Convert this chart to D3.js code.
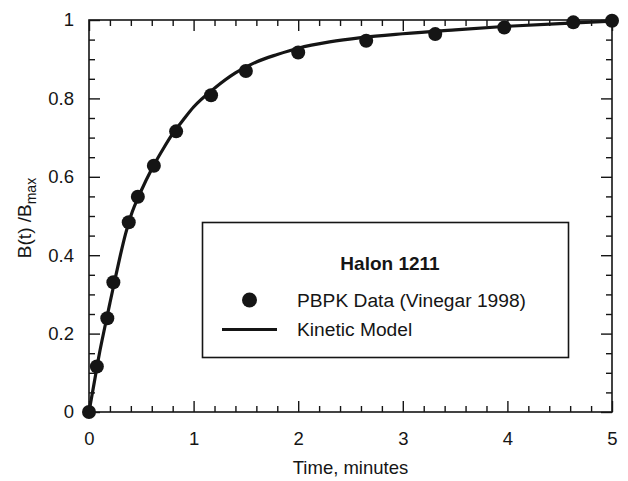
<!DOCTYPE html>
<html>
<head>
<meta charset="utf-8">
<script src="https://cdn.jsdelivr.net/npm/d3@7"></script>
<style>
  html, body { margin: 0; padding: 0; background: #fff; }
  svg { display: block; font-family: "Liberation Sans", Arial, Helvetica, sans-serif; }
</style>
</head>
<body>
<svg id="chart" width="628" height="481"></svg>
<script>
// ---- Data ----
const dataTime = [0, 0.075, 0.175, 0.233, 0.38, 0.467, 0.62, 0.833, 1.167, 1.5, 2.0, 2.65, 3.31, 3.97, 4.63, 5.0];
const dataValue = [0, 0.116, 0.239, 0.331, 0.484, 0.549, 0.628, 0.716, 0.808, 0.870, 0.917, 0.947, 0.964, 0.981, 0.994, 0.998];

const modelTime = [0, 0.05, 0.1, 0.15, 0.2, 0.25, 0.3, 0.35, 0.4, 0.5, 0.6, 0.7, 0.8, 0.9, 1.0, 1.2, 1.4, 1.6, 1.8, 2.0, 2.3, 2.6, 3.0, 3.5, 4.0, 4.5, 5.0];
const modelValue = [0, 0.075, 0.15, 0.215, 0.278, 0.34, 0.40, 0.455, 0.50, 0.565, 0.62, 0.667, 0.71, 0.745, 0.778, 0.826, 0.865, 0.893, 0.912, 0.928, 0.944, 0.955, 0.965, 0.975, 0.984, 0.991, 0.997];

const xTicks = [0, 1, 2, 3, 4, 5];
const yTicks = [0, 0.2, 0.4, 0.6, 0.8, 1];
const yTickLabels = ["0", "0.2", "0.4", "0.6", "0.8", "1"];
const xMinorTicks = d3.range(0, 26).map(i => i / 5).filter(v => Math.abs(v - Math.round(v)) > 1e-6);
const yMinorTicks = d3.range(0, 21).map(i => i / 20).filter(v => Math.abs(v * 5 - Math.round(v * 5)) > 1e-6);

const legendTitle = "Halon 1211";
const legendData = "PBPK Data (Vinegar 1998)";
const legendModel = "Kinetic Model";
const xTitle = "Time, minutes";

// ---- Layout ----
const pLeft = 89, pRight = 612, pTop = 20, pBottom = 412;
const ink = "#151515";
const fs = 18.5;

const svg = d3.select("#chart");
const x = d3.scaleLinear().domain([0, 5]).range([pLeft, pRight]);
const y = d3.scaleLinear().domain([0, 1]).range([pBottom, pTop]);

function styleAxis(g) {
  g.select(".domain").remove();
  g.selectAll(".tick line").attr("stroke", ink).attr("stroke-width", 1.4);
  g.selectAll(".tick text").attr("fill", ink).attr("font-size", fs).attr("font-family", "Liberation Sans, Arial, sans-serif");
}

// bottom
svg.append("g").attr("transform", `translate(0,${pBottom})`)
  .call(d3.axisBottom(x).tickValues(xTicks).tickFormat(d3.format("d")).tickSize(-11).tickPadding(19.5))
  .call(styleAxis);
svg.append("g").attr("transform", `translate(0,${pBottom})`)
  .call(d3.axisBottom(x).tickValues(xMinorTicks).tickFormat("").tickSize(-6))
  .call(styleAxis);
// top
svg.append("g").attr("transform", `translate(0,${pTop})`)
  .call(d3.axisTop(x).tickValues(xTicks).tickFormat("").tickSize(-11))
  .call(styleAxis);
svg.append("g").attr("transform", `translate(0,${pTop})`)
  .call(d3.axisTop(x).tickValues(xMinorTicks).tickFormat("").tickSize(-6))
  .call(styleAxis);
// left
svg.append("g").attr("transform", `translate(${pLeft},0)`)
  .call(d3.axisLeft(y).tickValues(yTicks).tickFormat((d, i) => yTickLabels[i]).tickSize(-11).tickPadding(15))
  .call(styleAxis);
svg.append("g").attr("transform", `translate(${pLeft},0)`)
  .call(d3.axisLeft(y).tickValues(yMinorTicks).tickFormat("").tickSize(-6))
  .call(styleAxis);
// right
svg.append("g").attr("transform", `translate(${pRight},0)`)
  .call(d3.axisRight(y).tickValues(yTicks).tickFormat("").tickSize(-11))
  .call(styleAxis);
svg.append("g").attr("transform", `translate(${pRight},0)`)
  .call(d3.axisRight(y).tickValues(yMinorTicks).tickFormat("").tickSize(-6))
  .call(styleAxis);

// frame
svg.append("rect")
  .attr("x", pLeft).attr("y", pTop)
  .attr("width", pRight - pLeft).attr("height", pBottom - pTop)
  .attr("fill", "none").attr("stroke", ink).attr("stroke-width", 1.6);

// model line
const line = d3.line()
  .x((d, i) => x(modelTime[i]))
  .y((d, i) => y(modelValue[i]))
  .curve(d3.curveMonotoneX);
svg.append("path")
  .datum(modelValue)
  .attr("d", line)
  .attr("fill", "none")
  .attr("stroke", ink)
  .attr("stroke-width", 3.2)
  .attr("stroke-linejoin", "round");

// data points
svg.append("g").selectAll("circle")
  .data(dataValue)
  .join("circle")
  .attr("cx", (d, i) => x(dataTime[i]))
  .attr("cy", d => y(d))
  .attr("r", 7)
  .attr("fill", ink);

// axis titles
svg.append("text")
  .attr("x", (pLeft + pRight) / 2)
  .attr("y", 474)
  .attr("text-anchor", "middle")
  .attr("font-size", fs)
  .attr("fill", ink)
  .text(xTitle);

const yt = svg.append("text")
  .attr("transform", "translate(31,218) rotate(-90)")
  .attr("text-anchor", "middle")
  .attr("font-size", fs + 0.5)
  .attr("fill", ink);
yt.append("tspan").text("B(t) /B");
yt.append("tspan").attr("dy", 5).attr("font-size", 14).text("max");

// legend
const lg = svg.append("g");
lg.append("rect")
  .attr("x", 202.5).attr("y", 222.5)
  .attr("width", 366).attr("height", 135)
  .attr("fill", "#fff").attr("stroke", ink).attr("stroke-width", 1.6);
lg.append("text")
  .attr("x", 390).attr("y", 270)
  .attr("text-anchor", "middle")
  .attr("font-size", 19).attr("font-weight", "bold")
  .attr("fill", ink)
  .text(legendTitle);
lg.append("circle").attr("cx", 249.5).attr("cy", 300).attr("r", 7.5).attr("fill", ink);
lg.append("text")
  .attr("x", 297).attr("y", 306.5)
  .attr("font-size", fs + 0.7)
  .attr("fill", ink)
  .text(legendData);
lg.append("line")
  .attr("x1", 222).attr("x2", 277).attr("y1", 329.5).attr("y2", 329.5)
  .attr("stroke", ink).attr("stroke-width", 3.2);
lg.append("text")
  .attr("x", 297).attr("y", 336)
  .attr("font-size", fs + 0.7)
  .attr("fill", ink)
  .text(legendModel);
</script>
</body>
</html>
